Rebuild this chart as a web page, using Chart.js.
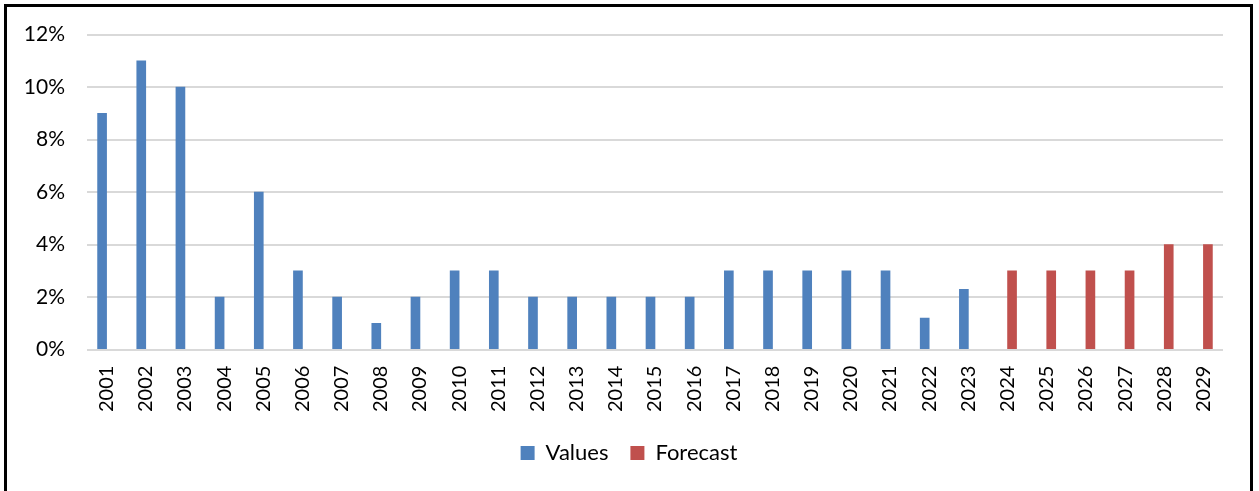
<!DOCTYPE html>
<html lang="en">
<head>
  <meta charset="UTF-8">
  <title>Values and Forecast</title>
  <script src="https://cdn.jsdelivr.net/npm/chart.js"></script>
  <style>
    body {
      margin: 0;
      background: #ffffff;
    }
    #frame {
      position: absolute;
      left: 4px;
      top: 4px;
      width: 1243px;
      height: 500px;
      border: 3px solid #000000;
      background: #ffffff;
      overflow: hidden;
    }
    canvas {
      display: block;
      position: relative;
      top: -7px;
    }
  </style>
</head>
<body>

  <div id="frame">
    <canvas id="chart" width="1243" height="507"></canvas>
  </div>

  <script>
    const years = ['2001', '2002', '2003', '2004', '2005', '2006', '2007', '2008', '2009', '2010',
      '2011', '2012', '2013', '2014', '2015', '2016', '2017', '2018', '2019', '2020',
      '2021', '2022', '2023', '2024', '2025', '2026', '2027', '2028', '2029'];

    // percent, null where the other series has the bar
    const values = [9, 11, 10, 2, 6, 3, 2, 1, 2, 3,
      3, 2, 2, 2, 2, 2, 3, 3, 3, 3,
      3, 1.2, 2.3, null, null, null, null, null, null];
    const forecast = [null, null, null, null, null, null, null, null, null, null,
      null, null, null, null, null, null, null, null, null, null,
      null, null, null, 3, 3, 3, 3, 4, 4];

    const fontFamily = 'Lato, "Noto Sans", sans-serif';

    // legend sits centred on the whole frame, not on the padded area
    const shiftLegend = {
      id: 'shiftLegend',
      afterLayout(chart) {
        chart.legend.left += 14;
        chart.legend.right += 14;
      }
    };

    const ctx = document.getElementById('chart').getContext('2d');
    new Chart(ctx, {
      type: 'bar',
      data: {
        labels: years,
        datasets: [{
          label: 'Values',
          data: values,
          backgroundColor: '#4F81BD',
          barThickness: 9
        }, {
          label: 'Forecast',
          data: forecast,
          backgroundColor: '#C0504D',
          barThickness: 9
        }]
      },
      plugins: [shiftLegend],
      options: {
        responsive: false,
        animation: false,
        layout: {
          padding: { left: 0, right: 27, top: 10, bottom: 33 }
        },
        plugins: {
          tooltip: { enabled: false },
          legend: {
            position: 'bottom',
            labels: {
              color: '#000000',
              font: { family: fontFamily, size: 22 },
              boxWidth: 14,
              boxHeight: 14,
              padding: 22
            }
          }
        },
        scales: {
          x: {
            grid: { display: false },
            border: { display: false },
            ticks: {
              color: '#000000',
              font: { family: fontFamily, size: 20 },
              minRotation: 90,
              maxRotation: 90,
              padding: 8
            }
          },
          y: {
            min: 0,
            max: 12,
            border: { display: false },
            grid: { color: '#D9D9D9', lineWidth: 2, drawTicks: false },
            ticks: {
              stepSize: 2,
              color: '#000000',
              font: { family: fontFamily, size: 21 },
              padding: 22,
              callback: v => v + '%'
            },
            afterFit: scale => { scale.width = 80; }
          }
        }
      }
    });
  </script>

</body>
</html>
